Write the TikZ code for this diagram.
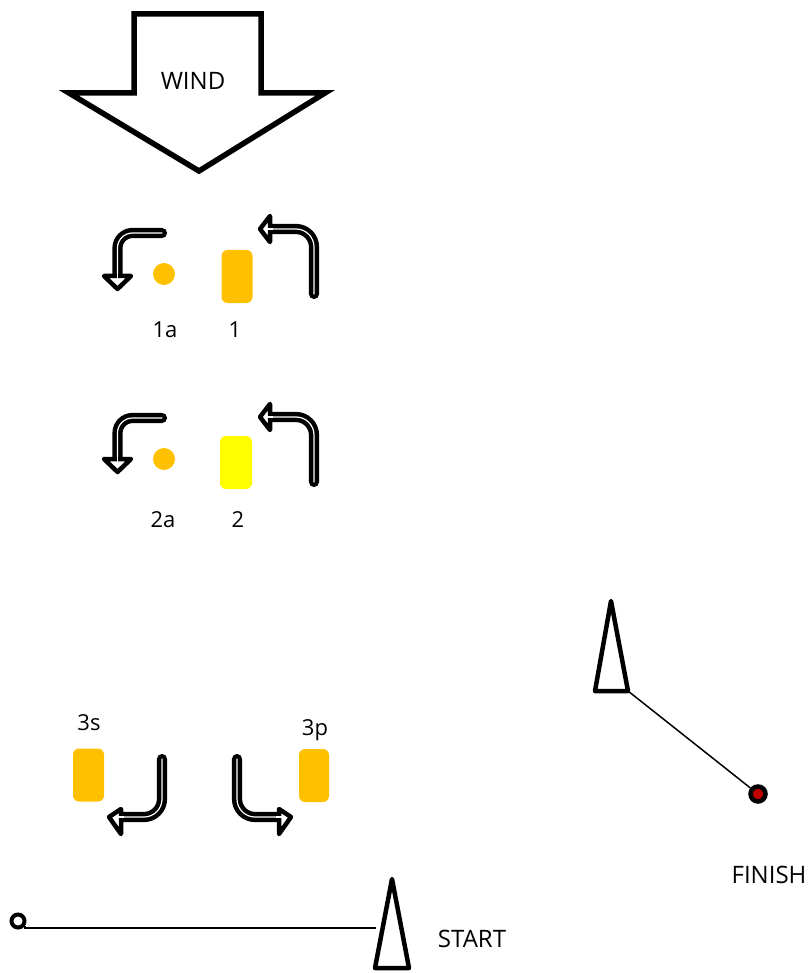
\documentclass[tikz,border=0pt]{standalone}
\usepackage{fontspec}
\setmainfont{Open Sans}
\definecolor{orng}{HTML}{FFC000}
\definecolor{yell}{HTML}{FFFF00}
\definecolor{dred}{HTML}{C00000}
\tikzset{
  windarrow/.style={draw=black, line width=5.5pt, line join=miter, fill=white},
  turn/.style={draw=black, line width=4.5pt, double=white, double distance=1.2pt, line cap=round},
  headtip/.style={draw=black, line width=4.5pt, fill=white, line join=round},
  core/.style={draw=white, line width=1.2pt},
  buoy/.style={draw=black, line width=4.5pt, fill=white, line join=round},
  dot/.style={circle, fill=orng, minimum size=22pt, inner sep=0pt},
  boat/.style={rectangle, rounded corners=6pt, minimum width=31pt, minimum height=53pt, inner sep=0pt},
  lbl/.style={font=\fontsize{22}{26}\selectfont, inner sep=0pt, anchor=base},
  biglbl/.style={font=\fontsize{24}{28}\selectfont, inner sep=0pt, anchor=base},
  thin/.style={draw=black, line width=1.5pt}
}
\begin{document}
\begin{tikzpicture}[x=1pt, y=-1pt]
\useasboundingbox (0,0) rectangle (811,973);

% wind arrow
\draw[windarrow] (134,14) -- (261,14) -- (261,93) -- (325,93) -- (199,171) -- (69,93) -- (134,93) -- cycle;
\node[biglbl] (wind) at (193,90) {WIND};

% group 1
\draw[turn, rounded corners=15pt] (162,233) -- (117.5,233) -- (117.5,275);
\draw[headtip] (104,276) -- (131,276) -- (117.5,289) -- cycle;
\draw[core] (117.5,272) -- (117.5,280);
\node[dot] (d1a) at (164,274) {};
\node[boat, fill=orng] (b1) at (237,276.5) {};
\draw[turn, rounded corners=18pt] (314,294) -- (314,229) -- (269,229);
\draw[headtip] (270,216) -- (270,242) -- (260,229) -- cycle;
\draw[core] (273,229) -- (266,229);
\node[lbl] (l1a) at (165,337) {1a};
\node[lbl] (l1) at (235,337) {1};

% group 2
\draw[turn, rounded corners=15pt] (162,418) -- (117.5,418) -- (117.5,459);
\draw[headtip] (104,459) -- (131,459) -- (117.5,472) -- cycle;
\draw[core] (117.5,455) -- (117.5,463);
\node[dot] (d2a) at (164,459) {};
\node[boat, fill=yell, minimum width=32pt] (b2) at (236,462.5) {};
\draw[turn, rounded corners=18pt] (314,482) -- (314,417) -- (269,417);
\draw[headtip] (270,404) -- (270,430) -- (260,417) -- cycle;
\draw[core] (273,417) -- (266,417);
\node[lbl] (l2a) at (163,527) {2a};
\node[lbl] (l2) at (238,527) {2};

% group 3
\node[lbl] (l3s) at (89,730) {3s};
\node[lbl] (l3p) at (315,735) {3p};
\node[boat, fill=orng] (b3s) at (88.5,775) {};
\node[boat, fill=orng, minimum width=30pt] (b3p) at (314,775.5) {};
\draw[turn, rounded corners=18pt] (162,759) -- (162,817) -- (121,817);
\draw[headtip] (121,809) -- (121,834) -- (109,817) -- cycle;
\draw[core] (124,817) -- (117,817);
\draw[turn, rounded corners=18pt] (237,759) -- (237,817) -- (279,817);
\draw[headtip] (279,809) -- (279,834) -- (291,817) -- cycle;
\draw[core] (276,817) -- (283,817);

% finish
\coordinate (ftip) at (611,601);
\coordinate (fbl) at (595,691);
\coordinate (fbr) at (628,691);
\draw[buoy] (ftip) -- (fbr) -- (fbl) -- cycle;
\node[circle, draw=black, fill=dred, line width=4.5pt, minimum size=15pt, inner sep=0pt] (fmark) at (758,794) {};
\draw[thin] (fbr) -- (fmark);
\node[biglbl] (finish) at (769,883) {FINISH};

% start
\node[circle, draw=black, fill=white, line width=4pt, minimum size=13pt, inner sep=0pt] (smark) at (18,921) {};
\coordinate (sline) at (376,928);
\coordinate (stip) at (392,879);
\coordinate (sbl) at (375,968);
\coordinate (sbr) at (409,968);
\draw[thin] (smark.-35) -- (smark.-35 |- sline) -- (sline);
\draw[buoy] (stip) -- (sbr) -- (sbl) -- cycle;
\node[biglbl] (start) at (472,947) {START};
\end{tikzpicture}
\end{document}
